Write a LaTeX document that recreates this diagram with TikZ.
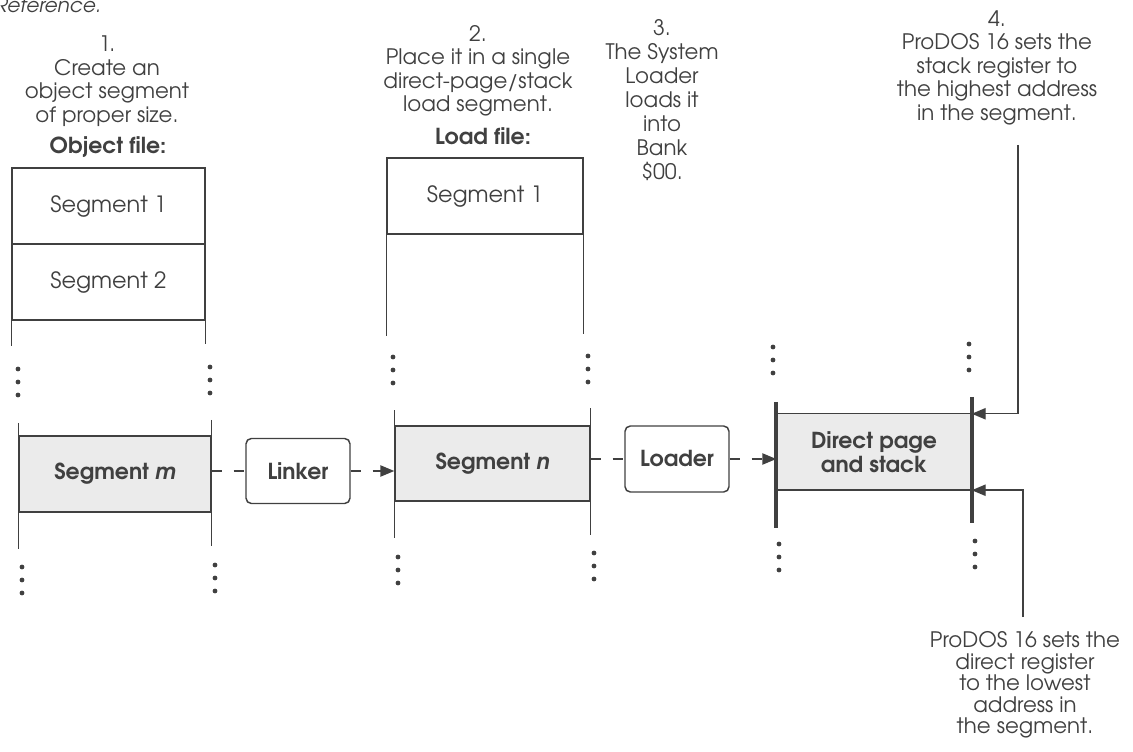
\documentclass[tikz,border=0pt]{standalone}
\usepackage{fontspec}
\setmainfont{TeX Gyre Adventor}
\usetikzlibrary{arrows.meta}
\definecolor{ink}{HTML}{404040}
\definecolor{shade}{HTML}{EBEBEB}
\newcommand\tridots[2]{\fill[ink] (#1,#2) circle (2.4) (#1,#2+13) circle (2.4) (#1,#2+26) circle (2.4);}
\tikzset{
  txt/.style={text=ink, align=center, inner sep=0pt, font=\fontsize{16}{17.6}\selectfont},
  boldtxt/.style={txt, font=\fontsize{16.5}{17.6}\selectfont\bfseries},
  line/.style={draw=ink, line width=1.1pt},
  thickline/.style={draw=ink, line width=3pt},
  segbox/.style={line, txt, font=\fontsize{16.8}{17.6}\selectfont, minimum width={193*0.75pt}, minimum height={76*0.75pt}},
  shadebox/.style={line, fill=shade, boldtxt, minimum height={76*0.75pt}},
  procbox/.style={line, boldtxt, rounded corners=4pt, minimum width={104*0.75pt}, minimum height={65*0.75pt}},
  dashconn/.style={line, dash pattern=on 7.5pt off 9pt},
  arr/.style={-{Triangle[length=10.5pt,width=8.5pt]}}
}
\begin{document}
\begin{tikzpicture}[x=0.75pt,y=-0.75pt]
\useasboundingbox (0,0) rectangle (1133,752);
\node[txt, anchor=base west, font=\fontsize{15}{17.6}\selectfont\itshape] (ref) at (-5,13) {Reference.};
% column 1
\node[txt] (t1) at (107,81) {1.\\Create an\\object segment\\of proper size.};
\node[boldtxt] (h1) at (108,147) {Object file:};
\node[segbox] (s1) at (108.5,206) {Segment 1};
\node[segbox] (s2) at (108.5,282) {Segment 2};
\draw[line] (s2.south west) -- ++(0,25);
\draw[line] (s2.south east) -- ++(0,23);
\tridots{18}{369}
\tridots{210}{367}
\node[shadebox, minimum width={192*0.75pt}] (segm) at (115,474) {Segment \textit{m}};
\draw[line] (segm.west) ++(0,-51) -- ++(0,126);
\draw[line] (segm.east) ++(0,-54) -- ++(0,126);
\tridots{22}{567}
\tridots{215}{565}
\node[procbox] (linker) at (298,471) {Linker};
% column 2
\node[txt] (t2) at (478,71) {2.\\Place it in a single\\direct-page/stack\\load segment.};
\node[boldtxt] (h2) at (483,136) {Load file:};
\node[segbox, minimum width={196*0.75pt}] (sl1) at (485,196) {Segment 1};
\draw[line] (sl1.south west) -- ++(0,101);
\draw[line] (sl1.south east) -- ++(0,99);
\tridots{393}{357}
\tridots{588}{356}
\node[shadebox, minimum width={195*0.75pt}, minimum height={75*0.75pt}] (segn) at (492.5,463.5) {Segment \textit{n}};
\draw[line] (segn.west) ++(0,-53) -- ++(0,128);
\draw[line] (segn.east) ++(0,-55) -- ++(0,127);
\tridots{398}{557}
\tridots{594}{553}
% column 3
\node[txt, font=\fontsize{16}{18}\selectfont] (t3) at (662,100) {3.\\The System\\Loader\\loads it\\into\\Bank\\\$00.};
\node[procbox, minimum height={66*0.75pt}] (loader) at (677,459) {Loader};
\node[shadebox, minimum width={194*0.75pt}, minimum height={75*0.75pt}, draw=none, align=center] (mem) at (874,452) {Direct page\\and stack};
\draw[line] (mem.north west) -- (mem.north east) (mem.south west) -- (mem.south east);
\draw[thickline] (mem.west) ++(0,-50) -- ++(0,126);
\draw[thickline] (mem.east) ++(0,-55) -- ++(0,126);
\tridots{773}{347}
\tridots{969}{344}
\tridots{779}{544}
\tridots{975}{541}
% annotations
\node[txt] (t4) at (997,67.5) {4.\\ProDOS 16 sets the\\stack register to\\the highest address\\in the segment.};
\node[txt, font=\fontsize{16}{16.2}\selectfont] (t5) at (1025,685) {ProDOS 16 sets the\\direct register\\to the lowest\\address in\\the segment.};
\coordinate (c4) at (1018,145);
\coordinate (c5) at (1023,617);
\draw[line, arr] (c4) |- (mem.north east);
\draw[line, arr] (c5) |- (mem.south east);
% connectors
\draw[dashconn] (segm.east |- linker.west) -- (linker.west);
\draw[dashconn, arr] (linker.east) -- (linker.east -| segn.west);
\draw[dashconn] (segn.east |- loader.west) -- (loader.west);
\draw[dashconn, arr] (loader.east) -- (loader.east -| mem.west);
\end{tikzpicture}
\end{document}
